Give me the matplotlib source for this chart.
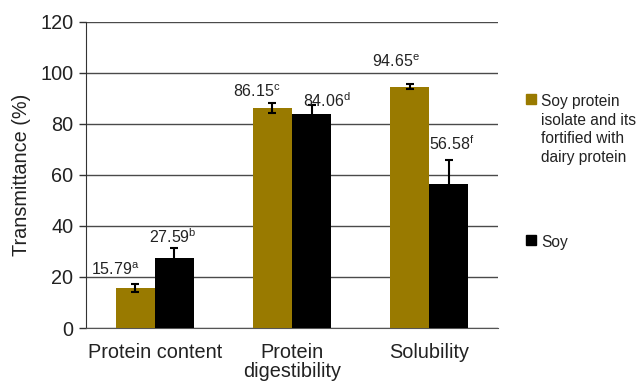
import matplotlib
matplotlib.use("Agg")
import matplotlib.pyplot as plt
import numpy as np
from matplotlib.patches import Patch

plt.rcParams['font.family'] = ['Liberation Sans', 'DejaVu Sans']
plt.rcParams['mathtext.fontset'] = 'custom'
plt.rcParams['mathtext.rm'] = 'Liberation Sans'
plt.rcParams['mathtext.it'] = 'Liberation Sans'

categories = ["Protein content", "Protein\ndigestibility", "Solubility"]
series_names = ["Soy protein\nisolate and its\nfortified with\ndairy protein", "Soy"]
spi_values = [15.79, 86.15, 94.65]
soy_values = [27.59, 84.06, 56.58]
spi_err = [1.5, 2.0, 1.1]
soy_err = [3.9, 3.5, 9.3]
spi_letters = ["a", "c", "e"]
soy_letters = ["b", "d", "f"]
yticks = [0, 20, 40, 60, 80, 100, 120]

# label offsets in pixels (dx, dy above bar top)
spi_offsets = [(-20, 13), (-16, 11), (-14, 20)]
soy_offsets = [(-1, 14.5), (15, 6.5), (3, 33.5)]

gold = "#997A00"
dark = "#000000"
txt = "#222222"

fig = plt.figure(figsize=(6.4, 3.85), dpi=100)
ax = fig.add_axes([86/640, 1-328/385, (498-86)/640, (328-22)/385])

x = np.arange(len(categories))
w = 0.285
ekw = dict(ecolor="black", elinewidth=1.5, capsize=3, capthick=1.5)
ax.bar(x - w/2, spi_values, w, color=gold, yerr=spi_err, error_kw=ekw, zorder=3)
ax.bar(x + w/2, soy_values, w, color=dark, yerr=soy_err, error_kw=ekw, zorder=3)

for xi, v, l, off in zip(x - w/2, spi_values, spi_letters, spi_offsets):
    ax.annotate(f"{v:.2f}$^{{{l}}}$", xy=(xi, v), xytext=off, textcoords="offset pixels",
                ha="center", va="baseline", fontsize=11.5, color=txt, zorder=5)
for xi, v, l, off in zip(x + w/2, soy_values, soy_letters, soy_offsets):
    ax.annotate(f"{v:.2f}$^{{{l}}}$", xy=(xi, v), xytext=off, textcoords="offset pixels",
                ha="center", va="baseline", fontsize=11.5, color=txt, zorder=5)

ax.set_xlim(-0.5, 2.5)
ax.set_ylim(0, 120)
ax.set_yticks(yticks)
ax.set_xticks(x)
ax.set_xticklabels(categories, fontsize=14.3, color=txt, linespacing=1.0)
ax.tick_params(axis="x", length=0, pad=11)
ax.tick_params(axis="y", length=5, direction="out", labelsize=14.3, labelcolor=txt,
               color="#333333", width=1, pad=4)
ax.set_ylabel("Transmittance (%)", fontsize=14.3, color=txt, labelpad=7)
ax.grid(axis="y", color="#4a4a4a", linewidth=1.0, zorder=0)
ax.set_axisbelow(True)
for s in ["top", "right"]:
    ax.spines[s].set_visible(False)
ax.spines["left"].set_color("#333333")
ax.spines["bottom"].set_color("#555555")

legkw = dict(loc="upper left", frameon=False, fontsize=11.2, handlelength=0.66,
             handleheight=0.66, handletextpad=0.3, borderpad=0, borderaxespad=0)
leg1 = fig.legend(handles=[Patch(color=gold)], labels=[series_names[0]],
                  bbox_to_anchor=(526/640, 1-94/385), **legkw)
leg2 = fig.legend(handles=[Patch(color=dark)], labels=[series_names[1]],
                  bbox_to_anchor=(526/640, 1-235/385), **legkw)
for leg in (leg1, leg2):
    for col in leg._legend_handle_box.get_children():
        for item in col.get_children():
            item.align = "top"
    for t in leg.get_texts():
        t.set_linespacing(1.31)
        t.set_color(txt)

fig.savefig("out.png", dpi=100)
